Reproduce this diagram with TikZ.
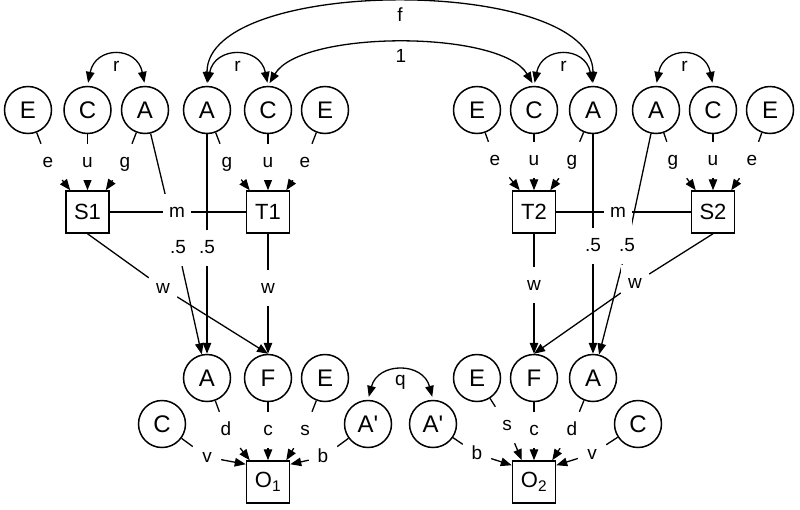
\documentclass[tikz,border=0pt]{standalone}
\usepackage{fontspec}
\setmainfont{Liberation Sans}
\usetikzlibrary{arrows.meta,calc}
\pgfdeclarelayer{bg}
\pgfsetlayers{bg,main}
\begin{document}
\begin{tikzpicture}[x=1pt,y=-1pt,
  lat/.style={circle,draw,line width=1.5pt,minimum size=47pt,inner sep=0pt,font=\fontsize{24}{24}\selectfont},
  obs/.style={rectangle,draw,line width=1.5pt,minimum width=43pt,minimum height=42pt,inner sep=0pt,font=\fontsize{22}{22}\selectfont},
  lbl/.style={fill=white,inner sep=0pt,minimum width=28pt,minimum height=36pt,font=\fontsize{19}{19}\selectfont,text height=10pt,text depth=0pt},
  clbl/.style={inner sep=0pt,font=\fontsize{19}{19}\selectfont,text height=10pt,text depth=0pt},
  con/.style={line width=1.3pt},
  arr/.style={con,-{Triangle[length=11pt,width=8.5pt]}},
  dbl/.style={con,{Triangle[length=11pt,width=8.5pt]}-{Triangle[length=11pt,width=8.5pt]},shorten <=3pt,shorten >=3pt}
]
\useasboundingbox (0,0) rectangle (800,509);
% top row latent variables
\node[lat] (EL1) at (28,110) {E};
\node[lat] (CL1) at (87.5,110) {C};
\node[lat] (AL1) at (145,110) {A};
\node[lat] (AT1) at (207,110) {A};
\node[lat] (CT1) at (268,110) {C};
\node[lat] (ET1) at (325,110) {E};
\node[lat] (ET2) at (477,110) {E};
\node[lat] (CT2) at (534,110) {C};
\node[lat] (AT2) at (593,110) {A};
\node[lat] (AS2) at (656,110) {A};
\node[lat] (CS2) at (713,110) {C};
\node[lat] (ES2) at (770,110) {E};
% observed top
\node[obs] (S1) at (87.5,212) {S1};
\node[obs] (T1) at (268,212) {T1};
\node[obs] (T2) at (534,212) {T2};
\node[obs] (S2) at (713,212) {S2};
% bottom latent
\node[lat] (A1) at (207,378) {A};
\node[lat] (F1) at (268,378) {F};
\node[lat] (E1) at (325,378) {E};
\node[lat] (C1) at (162,424) {C};
\node[lat] (Ap1) at (368,424) {A\textquotesingle};
\node[lat] (Ap2) at (433,424) {A\textquotesingle};
\node[lat] (E2) at (477,378) {E};
\node[lat] (F2) at (534,378) {F};
\node[lat] (A2) at (593,378) {A};
\node[lat] (C2) at (638,424) {C};
\node[obs] (O1) at (268,482) {O\textsubscript{1}};
\node[obs] (O2) at (534,482) {O\textsubscript{2}};
% path labels
\node[lbl] (e1) at (48,162) {e};
\node[lbl] (u1) at (87.5,162) {u};
\node[lbl] (g1) at (125,162) {g};
\node[lbl] (g2) at (227,162) {g};
\node[lbl] (u2) at (268,162) {u};
\node[lbl] (e2) at (305,162) {e};
\node[lbl] (mL) at (177,212) {m};
\node[lbl] (h5a) at (178,248) {.5};
\node[lbl] (h5b) at (207,248) {.5};
\node[lbl] (w1) at (163,288) {w};
\node[lbl] (w2) at (268,288) {w};
\node[lbl] (e3) at (495,160) {e};
\node[lbl] (u3) at (534,160) {u};
\node[lbl] (g3) at (572,160) {g};
\node[lbl] (g4) at (673,160) {g};
\node[lbl] (u4) at (713,160) {u};
\node[lbl] (e4) at (752,160) {e};
\node[lbl] (mR) at (618,212) {m};
\node[lbl] (h5d) at (593,246) {.5};
\node[lbl] (h5c) at (627,246) {.5};
\node[lbl] (w4) at (534,285) {w};
\node[lbl] (w3) at (635,283) {w};
\node[lbl] (d1) at (226,430) {d};
\node[lbl] (c1) at (268,430) {c};
\node[lbl] (s1) at (305,430) {s};
\node[lbl] (v1) at (207,457) {v};
\node[lbl] (b1) at (323,457) {b};
\node[lbl] (s2) at (507,425) {s};
\node[lbl] (c2) at (534,430) {c};
\node[lbl] (d2) at (572,430) {d};
\node[lbl] (b2) at (477,454) {b};
\node[lbl] (v2) at (592,454) {v};
\begin{pgfonlayer}{bg}
% S1 block
\draw[con] (EL1) -- (e1); \draw[arr] (e1) -- ($(S1.north west)+(5,0)$);
\draw[con] (CL1) -- (u1); \draw[arr] (u1) -- (S1.north);
\draw[con] (AL1) -- (g1); \draw[arr] (g1) -- ($(S1.north east)+(-4,0)$);
% T1 block
\draw[con] (AT1) -- (g2); \draw[arr] (g2) -- ($(T1.north west)+(4,0)$);
\draw[con] (CT1) -- (u2); \draw[arr] (u2) -- (T1.north);
\draw[con] (ET1) -- (e2); \draw[arr] (e2) -- ($(T1.north east)+(-4,0)$);
\draw[con] (S1) -- (mL) -- (T1);
\draw[con] (AL1) -- (h5a); \draw[arr] (h5a) -- (A1);
\draw[con] (AT1) -- (h5b); \draw[arr] (h5b) -- (A1);
\draw[con] (S1.south) -- (w1); \draw[arr] (w1) -- (F1.north);
\draw[con] (T1) -- (w2); \draw[arr] (w2) -- (F1);
% T2 block
\draw[con] (ET2) -- (e3); \draw[arr] (e3) -- ($(T2.north west)+(8,0)$);
\draw[con] (CT2) -- (u3); \draw[arr] (u3) -- (T2.north);
\draw[con] (AT2) -- (g3); \draw[arr] (g3) -- ($(T2.north east)+(-6,0)$);
% S2 block
\draw[con] (AS2) -- (g4); \draw[arr] (g4) -- ($(S2.north west)+(5,0)$);
\draw[con] (CS2) -- (u4); \draw[arr] (u4) -- (S2.north);
\draw[con] (ES2) -- (e4); \draw[arr] (e4) -- ($(S2.north east)+(-4,0)$);
\draw[con] (T2) -- (mR) -- (S2);
\draw[con] (AT2) -- (h5d); \draw[arr] (h5d) -- (A2);
\draw[con] (AS2) -- (h5c); \draw[arr] (h5c) -- (A2);
\draw[con] (S2.south) -- (w3); \draw[arr] (w3) -- (F2.north);
\draw[con] (T2) -- (w4); \draw[arr] (w4) -- (F2);
% O1
\draw[con] (A1) -- (d1); \draw[arr] (d1) -- ($(O1.north west)+(4,0)$);
\draw[con] (F1) -- (c1); \draw[arr] (c1) -- (O1.north);
\draw[con] (E1) -- (s1); \draw[arr] (s1) -- ($(O1.north east)+(-4,0)$);
\draw[con] (C1) -- (v1); \draw[arr] (v1) -- ($(O1.north west)+(0,4)$);
\draw[con] (Ap1) -- (b1); \draw[arr] (b1) -- ($(O1.north east)+(0,4)$);
% O2
\draw[con] (E2) -- (s2); \draw[arr] (s2) -- ($(O2.north west)+(10,0)$);
\draw[con] (F2) -- (c2); \draw[arr] (c2) -- (O2.north);
\draw[con] (A2) -- (d2); \draw[arr] (d2) -- ($(O2.north east)+(-4,0)$);
\draw[con] (Ap2) -- (b2); \draw[arr] (b2) -- ($(O2.north west)+(0,5)$);
\draw[con] (C2) -- (v2); \draw[arr] (v2) -- ($(O2.north east)+(0,5)$);
% curved covariances
\draw[dbl] (CL1.north) .. controls ($(CL1.north)+(8,-40)$) and ($(AL1.north)+(-8,-40)$) .. (AL1.north) node[clbl,pos=0.5,yshift=-11pt] (r1) {r};
\draw[dbl] (AT1.north) .. controls ($(AT1.north)+(8,-40)$) and ($(CT1.north)+(-8,-40)$) .. (CT1.north) node[clbl,pos=0.5,yshift=-11pt] (r2) {r};
\draw[dbl] (CT2.north) .. controls ($(CT2.north)+(8,-40)$) and ($(AT2.north)+(-8,-40)$) .. (AT2.north) node[clbl,pos=0.5,yshift=-11pt] (r3) {r};
\draw[dbl] (AS2.north) .. controls ($(AS2.north)+(8,-40)$) and ($(CS2.north)+(-8,-40)$) .. (CS2.north) node[clbl,pos=0.5,yshift=-11pt] (r4) {r};
\draw[dbl] (AT1.north) .. controls ($(AT1.north)+(0,-110)$) and ($(AT2.north)+(0,-110)$) .. (AT2.north) node[clbl,pos=0.5,yshift=-13pt] (fl) {f};
\draw[dbl] (CT1.north) .. controls ($(CT1.north)+(33,-56)$) and ($(CT2.north)+(-33,-56)$) .. (CT2.north) node[clbl,pos=0.5,yshift=-14pt] (onel) {1};
\draw[dbl] (Ap1.north) .. controls ($(Ap1.north)+(10,-38)$) and ($(Ap2.north)+(-10,-38)$) .. (Ap2.north) node[clbl,pos=0.5,yshift=-9pt] (ql) {q};
\end{pgfonlayer}
\end{tikzpicture}
\end{document}
